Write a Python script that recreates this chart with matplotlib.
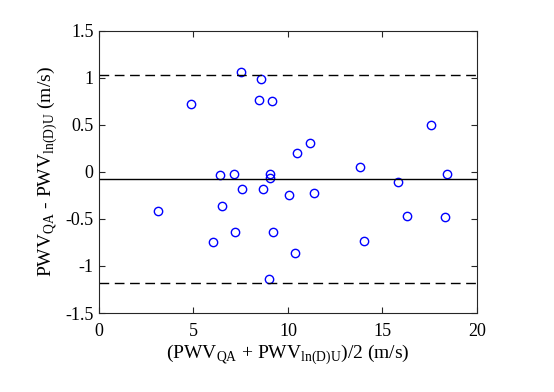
import numpy as np
import matplotlib.pyplot as plt

plt.rcParams['font.family'] = 'Liberation Serif'
plt.rcParams['mathtext.fontset'] = 'custom'
plt.rcParams['mathtext.rm'] = 'Liberation Serif'

#%% Data
mean_pwv = [3.11, 4.88, 6.38, 7.16, 6.51, 7.55, 7.50, 8.59, 8.45, 9.17,
            9.03, 9.06, 8.69, 10.05, 10.49, 11.18, 11.38, 6.03, 7.20, 9.22,
            10.39, 8.99, 13.81, 15.82, 17.57, 18.41, 16.28, 18.29, 14.00]
diff_pwv = [-0.42, 0.72, -0.03, -0.02, -0.36, -0.18, 1.065, 0.99, 0.76, 0.75,
            -0.02, -0.07, -0.18, -0.25, 0.20, 0.31, -0.23, -0.745, -0.64, -0.64,
            -0.86, -1.14, 0.05, -0.11, 0.50, -0.02, -0.47, -0.48, -0.735]
bias = -0.075
loa_upper = 1.03
loa_lower = -1.18

#%% Bland-Altman plot
fig = plt.figure(figsize=(5.54, 3.92), dpi=100)
ax = fig.add_axes([0.1787, 0.2015, 0.6823, 0.7205])

ax.plot(mean_pwv, diff_pwv, 'o', color='#0000ff', mfc='none', ms=6, mew=1)
ax.axhline(bias, color='k', lw=1)
ax.axhline(loa_upper, color='k', lw=1, ls=(0, (7, 4)))
ax.axhline(loa_lower, color='k', lw=1, ls=(0, (7, 4)))

ax.set_xlim(0, 20)
ax.set_ylim(-1.5, 1.5)
ax.set_xticks([0, 5, 10, 15, 20])
ax.set_yticks([-1.5, -1, -0.5, 0, 0.5, 1, 1.5])
ax.set_yticklabels(['-1.5', '-1', '-0.5', '0', '0.5', '1', '1.5'])
ax.tick_params(direction='in', top=True, right=True, labelsize=13, length=4, color='#262626')
ax.tick_params(axis='x', pad=7)
ax.tick_params(axis='y', pad=4)
for s in ax.spines.values():
    s.set_color('#262626')
    s.set_linewidth(0.8)

ax.set_xlabel(r'(PWV$_{\mathrm{QA}}$ + PWV$_{\mathrm{ln(D)U}}$)/2 (m/s)', fontsize=14, labelpad=2)
ax.set_ylabel(r'PWV$_{\mathrm{QA}}$ - PWV$_{\mathrm{ln(D)U}}$ (m/s)', fontsize=14, labelpad=4)

plt.savefig('out.png', dpi=100)
